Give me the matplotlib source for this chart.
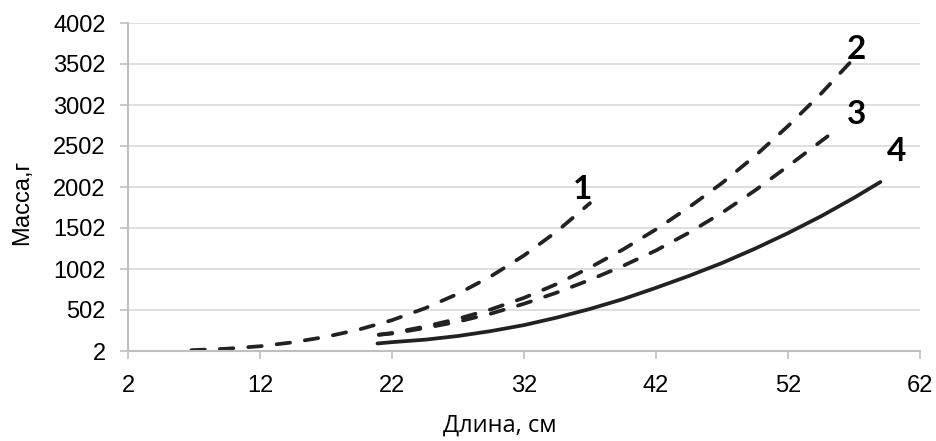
import matplotlib
matplotlib.use("Agg")
import matplotlib.pyplot as plt

# length, cm -> mass, g
len_1 = [6.8, 9.5, 12, 14.5, 17, 19.5, 22, 24.5, 27, 29.5, 32, 34.5, 37]
mass_1 = [12, 30, 60, 108, 175, 264, 378, 523, 700, 914, 1167, 1462, 1805]

len_2 = [21, 22, 24.5, 27, 29.5, 32, 34.5, 37, 39.5, 42, 44.5, 47, 49.5, 52, 54.5, 56.7]
mass_2 = [200, 222, 300, 395, 510, 650, 820, 1020, 1240, 1485, 1755, 2050, 2380, 2745, 3140, 3520]

len_3 = [21, 22, 24.5, 27, 29.5, 32, 34.5, 37, 39.5, 42, 44.5, 47, 49.5, 52, 55]
mass_3 = [200, 215, 282, 360, 458, 578, 715, 870, 1040, 1228, 1445, 1688, 1960, 2256, 2620]

len_4 = [20.9, 22, 24.5, 27, 29.5, 32, 34.5, 37, 39.5, 42, 44.5, 47, 49.5, 52, 54.5, 57, 59]
mass_4 = [94, 110, 140, 185, 245, 318, 410, 515, 635, 773, 918, 1075, 1250, 1440, 1645, 1870, 2063]

curve_names = ["1", "2", "3", "4"]
label_pos = [(36.4, 1967), (57.2, 3680), (57.2, 2887), (60.2, 2440)]

x_ticks = [2, 12, 22, 32, 42, 52, 62]
y_ticks = [2, 502, 1002, 1502, 2002, 2502, 3002, 3502, 4002]

ink = "#222222"
axis_gray = "#bfbfbf"

fig = plt.figure(figsize=(9.36, 4.41), dpi=100)
ax = fig.add_axes([128 / 936, 90 / 441, 792 / 936, 328 / 441])

for xs, ys in [(len_1, mass_1), (len_2, mass_2), (len_3, mass_3)]:
    ax.plot(xs, ys, color=ink, lw=2.7, dashes=(3.6, 4.0),
            dash_capstyle="round", solid_capstyle="round")
ax.plot(len_4, mass_4, color=ink, lw=2.7, solid_capstyle="round")

for name, (lx, ly) in zip(curve_names, label_pos):
    ax.text(lx, ly, name, ha="center", va="center", fontsize=24,
            fontweight="bold", family="Lato", color="black")

ax.set_xlim(2, 62)
ax.set_ylim(2, 4002)
ax.set_xticks(x_ticks)
ax.set_yticks(y_ticks)
ax.tick_params(axis="both", colors=axis_gray, labelcolor="black",
               labelsize=17, length=6, width=1.2, direction="out")
for lab in ax.get_xticklabels() + ax.get_yticklabels():
    lab.set_family("Liberation Sans")
ax.tick_params(axis="x", pad=11)
ax.tick_params(axis="y", pad=10)

ax.grid(axis="y", color="#d9d9d9", lw=1.2)
ax.set_axisbelow(True)
for side in ["top", "right"]:
    ax.spines[side].set_visible(False)
for side in ["left", "bottom"]:
    ax.spines[side].set_color(axis_gray)
    ax.spines[side].set_linewidth(1.5)

ax.set_xlabel("Длина, см", fontsize=17, family="Open Sans")
ax.xaxis.set_label_coords((500 - 128) / 792, -0.19)
ax.set_ylabel("Масса,г", fontsize=17, family="Liberation Sans")
ax.yaxis.set_label_coords(-(128 - 33) / 792, 0.454)

fig.savefig("out.png", dpi=100)
